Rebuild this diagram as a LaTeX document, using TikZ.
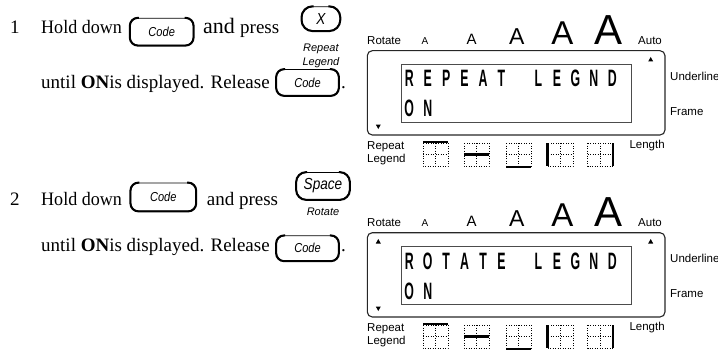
\documentclass[tikz,border=0pt]{standalone}
\usepackage{fontspec}
\setmainfont{Liberation Serif}
\setsansfont{Liberation Sans}
\usepackage{graphicx}
\newcommand{\keytxt}[2]{\scalebox{0.85}[1]{\fontsize{#1}{#1}\selectfont #2}}
\newcommand{\lcdc}[1]{\scalebox{0.52}[1]{#1}}
\begin{document}
\begin{tikzpicture}[x=1pt,y=-1pt,
  txt/.style={font=\fontsize{19}{22}\selectfont, inner sep=0pt, anchor=base west},
  lab/.style={font=\sffamily\fontsize{11.5}{13}\selectfont, inner sep=0pt},
  keylab/.style={font=\sffamily\itshape\fontsize{11}{12}\selectfont, inner sep=0pt},
  keybox/.style={draw, line width=0.8pt, rounded corners=8pt, inner sep=0pt, font=\sffamily\itshape},
  keyrim/.style={line width=2pt, rounded corners=8pt},
  lcdch/.style={font=\sffamily\bfseries\fontsize{23.7}{26}\selectfont, inner sep=0pt, anchor=base},
  bigA/.style={font=\sffamily\fontsize{#1}{#1}\selectfont, inner sep=0pt, anchor=base},
  dotl/.style={line width=0.9pt, dash pattern=on 0.9pt off 1.6pt},
  bar/.style={line width=2.2pt},
  outerlcd/.style={draw=black!85, line width=1.1pt, rounded corners=5pt},
  innerlcd/.style={draw=black!70, line width=0.8pt}
]
\useasboundingbox (0,0) rectangle (718,353);

% ---------------- Step 1 text ----------------
\node[txt] (n1) at (10,34) {1};
\node[txt] (h1) at (41,34) {\scalebox{0.95}[1]{Hold down}};
\node[keybox, minimum width=63pt, minimum height=27pt] (k1a) at (161.7,31.7) {\keytxt{13}{Code}};
\draw[keyrim] ([xshift=9pt]k1a.north west) -- (k1a.north west) -- (k1a.south west) -- (k1a.south east) -- (k1a.north east) -- ([xshift=-9pt]k1a.north east);
\node[txt, font=\fontsize{22}{24}\selectfont] (and1) at (203,34) {and};
\node[txt] (pr1) at (240,34) {press};
\node[keybox, minimum width=38pt, minimum height=24pt, rounded corners=11pt] (kx) at (320.9,18.7) {\keytxt{16}{X}};
\draw[keyrim, rounded corners=11pt] ([xshift=12pt]kx.north west) -- (kx.north west) -- (kx.south west) -- (kx.south east) -- (kx.north east) -- ([xshift=-12pt]kx.north east);
\node[keylab] (kxl1) at (320.9,49) {Repeat};
\node[keylab] (kxl2) at (320.9,62.5) {Legend};
\node[txt] (u1) at (41,88.3) {until \textbf{ON}is displayed. Release};
\node[keybox, minimum width=62pt, minimum height=26pt] (k1b) at (307.5,82.5) {\keytxt{13}{Code}};
\draw[keyrim] ([xshift=9pt]k1b.north west) -- (k1b.north west) -- (k1b.south west) -- (k1b.south east) -- (k1b.north east) -- ([xshift=-9pt]k1b.north east);
\node[txt] (d1) at (341,88.3) {.};

% ---------------- Step 2 text ----------------
\node[txt] (n2) at (10,205) {2};
\node[txt] (h2) at (41,205) {\scalebox{0.95}[1]{Hold down}};
\node[keybox, minimum width=65pt, minimum height=28pt] (k2a) at (163.3,197) {\keytxt{13}{Code}};
\draw[keyrim] ([xshift=9pt]k2a.north west) -- (k2a.north west) -- (k2a.south west) -- (k2a.south east) -- (k2a.north east) -- ([xshift=-9pt]k2a.north east);
\node[txt] (ap2) at (206.7,205) {and press};
\node[keybox, minimum width=53pt, minimum height=27pt, rounded corners=10pt] (ks) at (323,186) {\keytxt{16}{Space}};
\draw[keyrim, rounded corners=10pt] ([xshift=11pt]ks.north west) -- (ks.north west) -- (ks.south west) -- (ks.south east) -- (ks.north east) -- ([xshift=-11pt]ks.north east);
\node[keylab] (ksl) at (323,211.7) {Rotate};
\node[txt] (u2) at (41,251.7) {until \textbf{ON}is displayed. Release};
\node[keybox, minimum width=62pt, minimum height=25pt] (k2b) at (307.5,248.3) {\keytxt{13}{Code}};
\draw[keyrim] ([xshift=9pt]k2b.north west) -- (k2b.north west) -- (k2b.south west) -- (k2b.south east) -- (k2b.north east) -- ([xshift=-9pt]k2b.north east);
\node[txt] (d2) at (341,251.7) {.};

% ---------------- LCD panels ----------------
\foreach \p/\oy/\lineone in {1/0/{R/0,E/1,P/2,E/3,A/4,T/5,L/7,E/8,G/9,N/10,D/11}, 2/182/{R/0,O/1,T/2,A/3,T/4,E/5,L/7,E/8,G/9,N/10,D/11}} {
  \begin{scope}[yshift=-\oy pt]
    \node[lab, anchor=base west] (rot\p) at (367,44.3) {Rotate};
    \node[bigA=10] (a1\p) at (425,44.3) {A};
    \node[bigA=15] (a2\p) at (471.7,44.3) {A};
    \node[bigA=23] (a3\p) at (516.7,44.3) {A};
    \node[bigA=33] (a4\p) at (562.3,44.3) {A};
    \node[bigA=42] (a5\p) at (608.3,44.3) {A};
    \node[lab, anchor=base west] (auto\p) at (638,44.3) {Auto};
    \node[lab, anchor=west] (ul\p) at (670,76) {Underline};
    \node[lab, anchor=west] (fr\p) at (670,111.7) {Frame};
    \node[lab, anchor=west] (rp\p) at (367,146.7) {Repeat};
    \node[lab, anchor=west] (lg\p) at (367,160) {Legend};
    \node[lab, anchor=west] (len\p) at (629.3,145.7) {Length};
    \draw[outerlcd] (367.3,50.7) rectangle (665,135);
    \draw[innerlcd] (401.7,64.3) rectangle (631.7,122.7);
    \fill (648.2,61.5) -- (653.2,61.5) -- (650.7,57) -- cycle;
    \fill (375.8,124.5) -- (380.8,124.5) -- (378.3,129) -- cycle;
    \foreach \c/\i in \lineone {
      \node[lcdch] (c\p r1n\i) at (409.2+18.46*\i,87) {\lcdc{\c}};
    }
    \node[lcdch] (c\p r2n0) at (409.2,117) {\lcdc{O}};
    \node[lcdch] (c\p r2n1) at (427.7,117) {\lcdc{N}};
    % icons
    \foreach \cx [count=\k] in {435.5,476.5,518.7,560.5,600.2} {
      \draw[dotl] (\cx-12.5,143) rectangle (\cx+12.5,166);
      \draw[dotl] (\cx-12.5,154.5) -- (\cx+12.5,154.5);
      \draw[dotl] (\cx,143) -- (\cx,166);
    }
    \draw[bar] (423,142) -- (448,142);
    \draw[bar] (464,154.5) -- (489,154.5);
    \draw[bar] (506.2,167) -- (531.2,167);
    \draw[bar] (547.5,143) -- (547.5,166);
    \draw[bar] (613.2,143) -- (613.2,166);
  \end{scope}
}
\fill (375.8,243.5) -- (380.8,243.5) -- (378.3,239) -- cycle;
\end{tikzpicture}
\end{document}
